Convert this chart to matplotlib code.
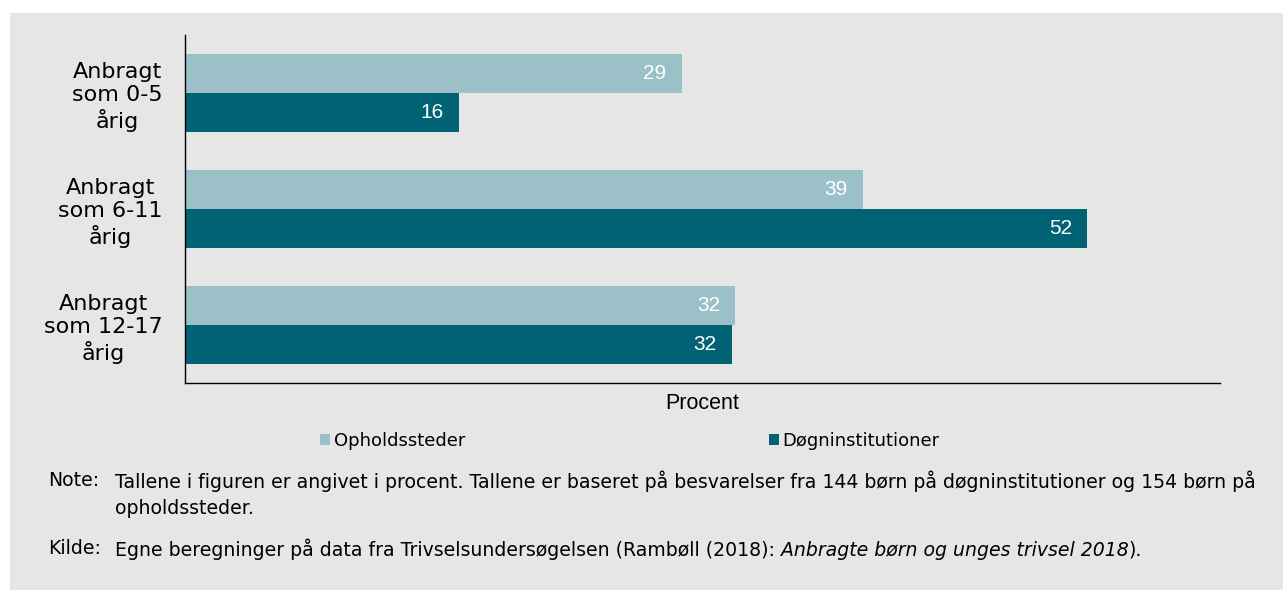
import matplotlib
matplotlib.use('Agg')
import matplotlib.pyplot as plt
import numpy as np
from matplotlib.patches import Rectangle, Patch

# Data
categories = ['Anbragt\nsom 0-5\nårig', 'Anbragt\nsom 6-11\nårig', 'Anbragt\nsom 12-17\nårig']
opholdssteder = [28.8, 39.3, 31.9]
doegninstitutioner = [15.9, 52.3, 31.7]
series_names = ['Opholdssteder', 'Døgninstitutioner']

light = '#9bc0c7'
dark = '#006272'
bg = '#e6e6e6'

plt.rcParams['font.family'] = ['DejaVu Sans']

fig = plt.figure(figsize=(12.83, 5.90), dpi=100, facecolor='white')
# grey panel behind the chart
fig.patches.append(Rectangle((10 / 1283, 0), 1, 1 - 13 / 590, transform=fig.transFigure,
                             facecolor=bg, edgecolor='none', zorder=-1))

ax = fig.add_axes([185 / 1283, 1 - 383 / 590, (1220 - 185) / 1283, (383 - 35) / 590])
ax.set_facecolor('none')

y = np.arange(len(categories))
h = 1 / 3
ax.barh(y - h / 2, opholdssteder, height=h, color=light, label=series_names[0])
ax.barh(y + h / 2, doegninstitutioner, height=h, color=dark, label=series_names[1])

for i in range(len(categories)):
    ax.annotate(f'{opholdssteder[i]:.0f}', xy=(opholdssteder[i], y[i] - h / 2),
                xytext=(-11, 0), textcoords='offset points', ha='right', va='center',
                color='white', fontsize=15, family='Liberation Sans')
    ax.annotate(f'{doegninstitutioner[i]:.0f}', xy=(doegninstitutioner[i], y[i] + h / 2),
                xytext=(-11, 0), textcoords='offset points', ha='right', va='center',
                color='white', fontsize=15, family='Liberation Sans')

ax.set_xlim(0, 60)
ax.set_ylim(2.5, -0.5)
ax.set_xticks([])
ax.set_yticks(y)
ax.set_yticklabels(categories, fontsize=16, multialignment='center')
ax.tick_params(axis='y', length=0, pad=16)
for s in ['top', 'right']:
    ax.spines[s].set_visible(False)
ax.spines['left'].set_linewidth(1)
ax.spines['bottom'].set_linewidth(1)
ax.set_xlabel('Procent', fontsize=15.5, family='Liberation Sans', labelpad=7)

handles = [Patch(facecolor=light), Patch(facecolor=dark)]
fig.legend(handles, series_names, loc='center', bbox_to_anchor=(630 / 1283, 1 - 441 / 590),
           ncol=2, frameon=False, fontsize=13, handlelength=0.55, handleheight=0.55,
           handletextpad=0.22, columnspacing=16.8)

# notes
fs = 13.55
fig.text(48 / 1283, 1 - 481 / 590, 'Note:', fontsize=fs, va='center')
fig.text(115 / 1283, 1 - 481 / 590, 'Tallene i figuren er angivet i procent. Tallene er baseret på besvarelser '
         'fra 144 børn på døgninstitutioner og 154 børn på', fontsize=fs, va='center')
fig.text(115 / 1283, 1 - 508 / 590, 'opholdssteder.', fontsize=fs, va='center')
fig.text(48 / 1283, 1 - 549 / 590, 'Kilde:', fontsize=fs, va='center')
t1 = fig.text(115 / 1283, 1 - 549 / 590, 'Egne beregninger på data fra Trivselsundersøgelsen (Rambøll (2018): ',
              fontsize=fs, va='center')
t2 = ax.annotate('Anbragte børn og unges trivsel 2018', xy=(1, 0), xycoords=t1, va='bottom',
                 fontsize=fs, style='italic', annotation_clip=False)
ax.annotate(').', xy=(1, 0), xycoords=t2, va='bottom', fontsize=fs, annotation_clip=False)

fig.savefig('out.png', dpi=100, facecolor='white')
